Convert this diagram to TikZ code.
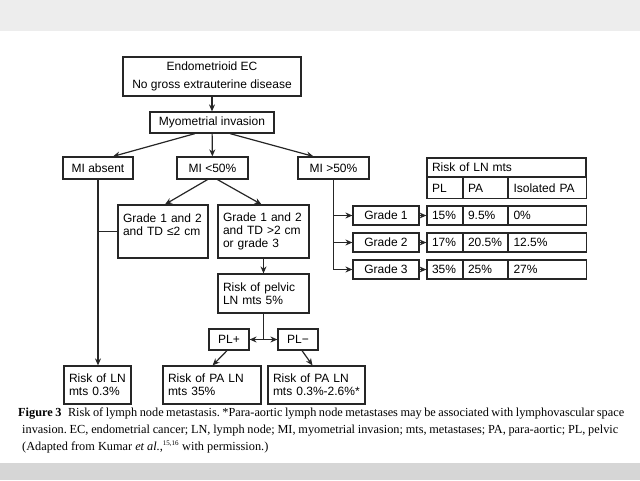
\documentclass[tikz,border=0pt]{standalone}
\usepackage{fontspec}
\setmainfont{Liberation Serif}
\newfontfamily\diagfont{Liberation Sans}
\usetikzlibrary{arrows.meta}
\frenchspacing
\begin{document}
\begin{tikzpicture}[x=1pt,y=-1pt,
  box/.style={draw=black!85, line width=1.2pt, inner xsep=5pt, inner ysep=0pt,
    font=\diagfont\fontsize{12}{13}\selectfont, align=left},
  cbox/.style={box, align=center},
  arr/.style={-{Stealth[length=7pt,width=6pt]}, line width=1.2pt, draw=black!85},
  darr/.style={{Stealth[length=7pt,width=6pt]}-{Stealth[length=7pt,width=6pt]}, line width=1.2pt, draw=black!85},
  ln/.style={line width=1.2pt, draw=black!85},
  captext/.style={inner sep=0pt, anchor=base west, font=\fontsize{12.3}{14}\selectfont}]
\useasboundingbox (0,0) rectangle (640,480);
\fill[black!7] (0,0) rectangle (640,31);
\fill[black!16] (0,463) rectangle (640,480);

% main flow
\node[cbox, minimum width=178, minimum height=39] (top) at (212,76.5) {Endometrioid EC\\[5pt]No gross extrauterine disease};
\node[cbox, minimum width=124, minimum height=21] (myo) at (212,122.5) {Myometrial invasion};
\node[cbox, minimum width=70, minimum height=22] (mia) at (98,168) {MI absent};
\node[cbox, minimum width=71, minimum height=22] (mil) at (212.5,168) {MI <50\%};
\node[cbox, minimum width=71, minimum height=22] (mig) at (333.5,168) {MI >50\%};
\node[box, text width=80, minimum height=53] (g12) at (163,231.5) {Grade 1 and 2\\and TD ≤2 cm\\\mbox{}};
\node[box, text width=81, minimum height=53] (g3) at (263.5,231.5) {Grade 1 and 2\\and TD >2 cm\\or grade 3};
\node[box, text width=81, minimum height=39] (pel) at (263.5,293.5) {Risk of pelvic\\LN mts 5\%};
\node[cbox, minimum width=40, minimum height=21] (plp) at (229,339.5) {PL+};
\node[cbox, minimum width=40, minimum height=21] (plm) at (298,339.5) {PL−};
\node[box, text width=57, minimum height=38] (r03) at (97.5,385) {Risk of LN\\mts 0.3\%};
\node[box, text width=88, minimum height=38] (pa35) at (212,385) {Risk of PA LN\\mts 35\%};
\node[box, text width=87, minimum height=38] (pa26) at (316.5,385) {Risk of PA LN\\mts 0.3\%-2.6\%*};

% table
\node[box, text width=149, minimum height=19] (hd) at (506.5,167.5) {Risk of LN mts};
\node[box, text width=26, minimum height=21] (hpl) at (445,188) {PL};
\node[box, text width=35, minimum height=21] (hpa) at (485.5,188) {PA};
\node[box, text width=68, minimum height=21] (hiso) at (547.5,188) {Isolated PA};

\node[cbox, minimum width=66, minimum height=19] (gr1) at (386,215.5) {Grade 1};
\node[cbox, minimum width=66, minimum height=19] (gr2) at (386,242.5) {Grade 2};
\node[cbox, minimum width=66, minimum height=19] (gr3) at (386,269.5) {Grade 3};

\node[box, text width=26, minimum height=19] (a1) at (445,215.5) {15\%};
\node[box, text width=35, minimum height=19] (b1) at (485.5,215.5) {9.5\%};
\node[box, text width=68, minimum height=19] (c1) at (547.5,215.5) {0\%};
\node[box, text width=26, minimum height=19] (a2) at (445,242.5) {17\%};
\node[box, text width=35, minimum height=19] (b2) at (485.5,242.5) {20.5\%};
\node[box, text width=68, minimum height=19] (c2) at (547.5,242.5) {12.5\%};
\node[box, text width=26, minimum height=19] (a3) at (445,269.5) {35\%};
\node[box, text width=35, minimum height=19] (b3) at (485.5,269.5) {25\%};
\node[box, text width=68, minimum height=19] (c3) at (547.5,269.5) {27\%};

% connectors
\draw[arr] (top) -- (myo);
\draw[arr] ([xshift=-17pt]myo.south) -- ([xshift=15pt]mia.north);
\draw[arr] (myo) -- (mil);
\draw[arr] ([xshift=18pt]myo.south) -- ([xshift=-20pt]mig.north);
\draw[arr] ([xshift=-5pt]mil.south) -- ([xshift=2pt]g12.north);
\draw[arr] ([xshift=5pt]mil.south) -- ([xshift=-2pt]g3.north);
\draw[arr] (g3) -- (pel);
\draw[arr] (mia) -- (mia |- r03.north);
\draw[ln] (g12.west) -- (g12.west -| mia);
\coordinate (plj) at (pel.south |- plp);
\draw[ln] (pel.south) -- (plj);
\draw[darr] (plp) -- (plm);
\draw[arr] ([xshift=-2pt]plp.south) -- ([xshift=-49pt]pa35.north east);
\draw[arr] ([xshift=4pt]plm.south) -- ([xshift=-4pt]pa26.north);
\coordinate (mgv) at (mig.south);
\draw[ln] (mgv) -- (mgv |- gr3);
\foreach \g in {gr1,gr2,gr3}{\draw[arr] (mgv |- \g) -- (\g);}
\draw[arr] (gr1) -- (a1);
\draw[arr] (gr2) -- (a2);
\draw[arr] (gr3) -- (a3);

% caption
\node[captext] (c1l) at (18,416) {\makebox[606pt][s]{\textbf{Figure 3}\hspace{4pt} Risk of lymph node metastasis. *Para-aortic lymph node metastases may be associated with lymphovascular space}};
\node[captext] (c2l) at (22,433) {\makebox[596pt][s]{invasion. EC, endometrial cancer; LN, lymph node; MI, myometrial invasion; mts, metastases; PA, para-aortic; PL, pelvic}};
\node[captext] (c3l) at (22,450) {(Adapted from Kumar \textit{et al.},\textsuperscript{\fontsize{7}{7}\selectfont 15,16} with permission.)};
\end{tikzpicture}
\end{document}
